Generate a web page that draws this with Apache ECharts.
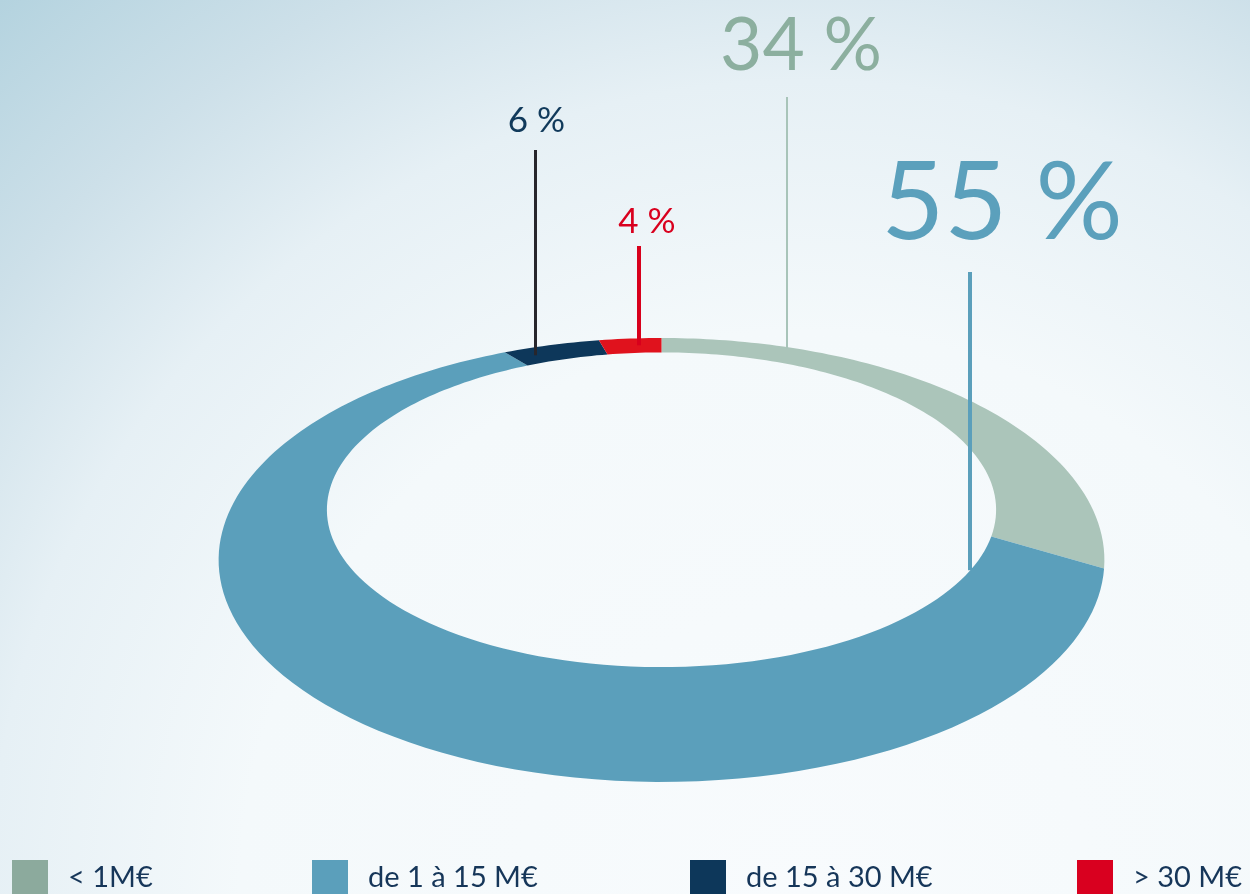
<!DOCTYPE html>
<html>
<head>
<meta charset="utf-8">
<script src="https://cdn.jsdelivr.net/npm/echarts@6/dist/echarts.min.js"></script>
<style>
  html, body { margin: 0; padding: 0; }
  #chart { width: 1250px; height: 894px; }
</style>
</head>
<body>
<div id="chart"></div>
<script>
// parts par tranche de montant
const categories = ['< 1M€', 'de 1 à 15 M€', 'de 15 à 30 M€', '> 30 M€'];
const shares = [34, 55, 6, 4];
const labelTexts = ['34 %', '55 %', '6 %', '4 %'];

const ringColors = ['#abc5ba', '#5b9fbb', '#0d375a', '#e0121d'];
const legendColors = ['#8caa9d', '#5b9fbb', '#0d375a', '#d9001f'];
const labelColors = ['#8caf9f', '#5ba0bc', '#113a5b', '#d9001e'];
const lineColors = ['#a8c4b9', '#5b9fbb', '#27262c', '#d8001c'];
const legendLeft = [12, 312, 690, 1077];

// anneau vu en perspective (centre projeté, échelles, inclinaison, rayon intérieur)
const view = {cx: 661.5, cy: 443, h: 376.4, s: 160.3, a: 0.527, inner: 0.805};
// t : position dans la part, r : 0 bord intérieur .. 1 bord extérieur
const labelLayout = [
  {t: 0.238, r: 0.9, top: 97, size: 73, dx: 14, ty: 46, lw: 2},
  {t: 0.052, r: 0, top: 272, size: 109, dx: 32, ty: 204, lw: 4},
  {t: 0.22, r: 0.5, top: 150, size: 35, dx: 1, ty: 121, lw: 3},
  {t: 0.61, r: 0.5, top: 246, size: 35, dx: 8, ty: 222, lw: 4}
];

const total = shares.reduce((a, b) => a + b, 0);

function project(phi, rho) {
  const c = Math.cos(phi);
  const d = 1 + rho * view.a * c;
  return [view.cx + view.h * rho * Math.sin(phi) / d, view.cy - view.s * rho * c / d];
}

function renderItem(params, api) {
  const i = params.seriesIndex;
  let start = 0;
  for (let k = 0; k < i; k++) start += shares[k];
  const val = api.value(0);
  const p0 = start / total * Math.PI * 2;
  const p1 = (start + val) / total * Math.PI * 2;
  const n = Math.max(4, Math.ceil((p1 - p0) / (Math.PI * 2) * 240));
  const points = [];
  for (let j = 0; j <= n; j++) points.push(project(p0 + (p1 - p0) * j / n, 1));
  for (let j = n; j >= 0; j--) points.push(project(p0 + (p1 - p0) * j / n, view.inner));

  const lay = labelLayout[i];
  const anchor = project(p0 + (p1 - p0) * lay.t, view.inner + (1 - view.inner) * lay.r);
  const lx = Math.round(anchor[0]) + (lay.lw % 2 ? 0.5 : 0);

  return {
    type: 'group',
    children: [
      {type: 'polygon', shape: {points: points}, style: {fill: ringColors[i]}},
      {
        type: 'line', z2: 10,
        shape: {x1: lx, y1: lay.top, x2: lx, y2: anchor[1]},
        style: {stroke: lineColors[i], lineWidth: lay.lw}
      },
      {
        type: 'text', z2: 11,
        style: {
          text: labelTexts[i], x: lx + lay.dx, y: lay.ty,
          fill: labelColors[i], font: lay.size + 'px Lato',
          textAlign: 'center', textVerticalAlign: 'middle'
        }
      }
    ]
  };
}

const chart = echarts.init(document.getElementById('chart'));
chart.setOption({
  animation: false,
  backgroundColor: {
    type: 'radial', x: 0.643, y: 1.0, r: 1.4,
    colorStops: [
      {offset: 0, color: '#f8fbfd'},
      {offset: 0.45, color: '#f4f9fb'},
      {offset: 0.65, color: '#e6f0f5'},
      {offset: 0.8, color: '#cde0e9'},
      {offset: 0.96, color: '#b4d3df'},
      {offset: 1, color: '#b0d1dd'}
    ]
  },
  legend: categories.map((name, i) => ({
    data: [{name: name, itemStyle: {color: legendColors[i]}}],
    left: legendLeft[i], top: 860, padding: 0,
    icon: 'rect', itemWidth: 36, itemHeight: 36,
    selectedMode: false,
    textStyle: {fontSize: 29, color: '#163659', fontFamily: 'Lato', padding: [0, 0, 0, 15]}
  })),
  series: categories.map((name, i) => ({
    type: 'custom',
    name: name,
    coordinateSystem: 'none',
    silent: true,
    itemStyle: {color: legendColors[i]},
    renderItem: renderItem,
    data: [[shares[i]]]
  }))
});
</script>
</body>
</html>
